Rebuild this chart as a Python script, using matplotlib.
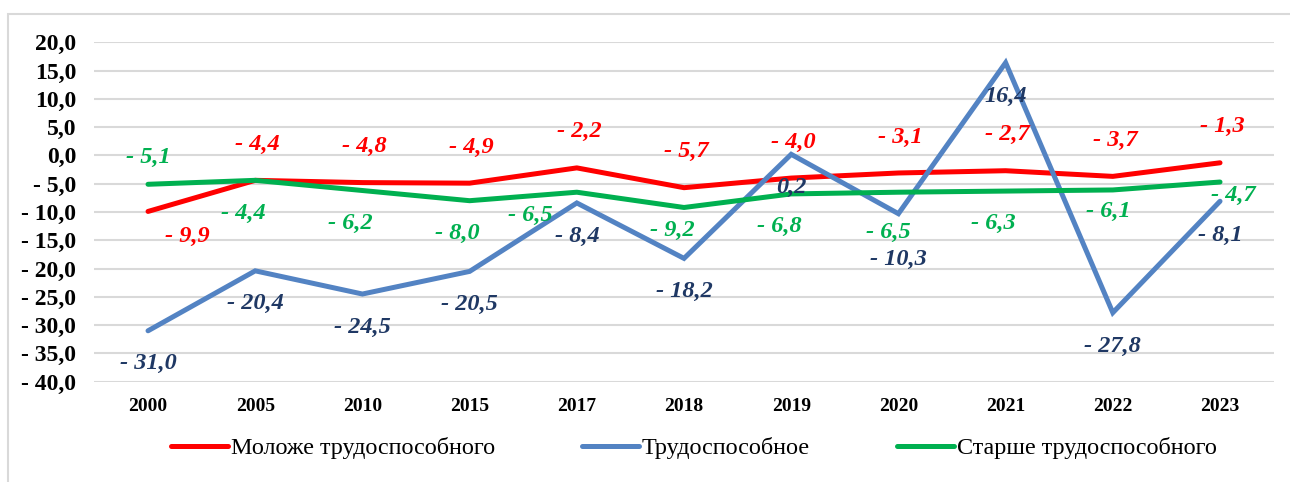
import matplotlib.pyplot as plt
from matplotlib.patches import Rectangle

plt.rcParams['font.family'] = ['Liberation Serif', 'DejaVu Serif']

years = ['2000', '2005', '2010', '2015', '2017', '2018', '2019', '2020', '2021', '2022', '2023']
molozhe = [-9.9, -4.4, -4.8, -4.9, -2.2, -5.7, -4.0, -3.1, -2.7, -3.7, -1.3]
trud = [-31.0, -20.4, -24.5, -20.5, -8.4, -18.2, 0.2, -10.3, 16.4, -27.8, -8.1]
starshe = [-5.1, -4.4, -6.2, -8.0, -6.5, -9.2, -6.8, -6.5, -6.3, -6.1, -4.7]
yticks = [-40, -35, -30, -25, -20, -15, -10, -5, 0, 5, 10, 15, 20]

# смещения подписей в пикселях (dx, dy), dy вверх положительный
off_red = [(39, -25)] + [(2, 36)] * 10
off_blue = [(0, -33)] * 7 + [(0, -46)] + [(0, -34)] * 3
off_green = [(0, 27), (-12, -33), (-12, -33), (-12, -33), (-47, -23), (-12, -23),
             (-12, -33), (-10, -40), (-12, -32), (-5, -22), (13, -13)]


def fmt(v):
    s = f'{abs(v):.1f}'.replace('.', ',')
    return '- ' + s if v < -1e-9 else s


fig = plt.figure(figsize=(12.9, 4.82), dpi=100)
fig.patches.append(Rectangle((8 / 1290, -0.1), 1.2, (482 - 14) / 482 + 0.1,
                             transform=fig.transFigure, fill=False,
                             edgecolor='#D9D9D9', linewidth=1.5))
ax = fig.add_axes([0.0732, 0.2081, 0.9141, 0.7041])

x = list(range(len(years)))
series = [
    (molozhe, '#FF0000', '#FF0000', 'Моложе трудоспособного', off_red, 'round'),
    (trud, '#5383C3', '#1F3864', 'Трудоспособное', off_blue, 'miter'),
    (starshe, '#00B050', '#00B050', 'Старше трудоспособного', off_green, 'round'),
]
for vals, col, lcol, name, offs, js in series:
    ax.plot(x, vals, color=col, linewidth=3.6, label=name,
            solid_joinstyle=js, solid_capstyle='round')
    for xi, v, (dx, dy) in zip(x, vals, offs):
        ax.annotate(fmt(v), (xi, v), xytext=(dx, dy), textcoords='offset pixels',
                    ha='center', va='center', color=lcol, fontsize=17.5,
                    fontweight='bold', fontstyle='italic')

ax.set_xlim(-0.5, len(years) - 0.5)
ax.set_ylim(-40, 20)
ax.set_yticks(yticks)
ax.set_yticklabels([fmt(v) for v in yticks], fontsize=17, fontweight='bold')
ax.set_xticks(x)
ax.set_xticklabels(years, fontsize=14, fontweight='bold')
ax.grid(axis='y', color='#D9D9D9', linewidth=1.5)
ax.set_axisbelow(True)
for sp in ax.spines.values():
    sp.set_visible(False)
ax.tick_params(length=0)
ax.tick_params(axis='y', pad=13)
ax.tick_params(axis='x', pad=12)

ax.legend(loc='center', bbox_to_anchor=(694 / 1290, 1 - 448 / 482),
          bbox_transform=fig.transFigure, ncol=3, frameon=False,
          fontsize=17.4, handlelength=2.36, handletextpad=0.12, columnspacing=3.6)

fig.savefig('out.png', dpi=100)
